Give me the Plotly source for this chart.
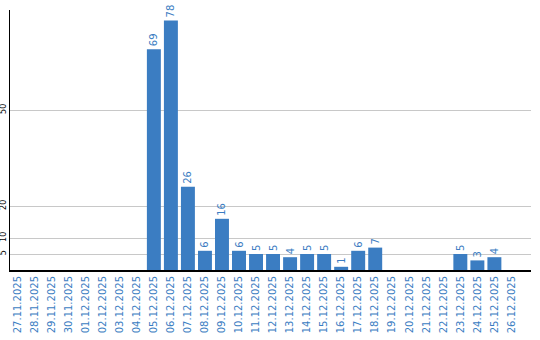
import plotly.graph_objects as go

dates = ["27.11.2025", "28.11.2025", "29.11.2025", "30.11.2025", "01.12.2025",
         "02.12.2025", "03.12.2025", "04.12.2025", "05.12.2025", "06.12.2025",
         "07.12.2025", "08.12.2025", "09.12.2025", "10.12.2025", "11.12.2025",
         "12.12.2025", "13.12.2025", "14.12.2025", "15.12.2025", "16.12.2025",
         "17.12.2025", "18.12.2025", "19.12.2025", "20.12.2025", "21.12.2025",
         "22.12.2025", "23.12.2025", "24.12.2025", "25.12.2025", "26.12.2025"]
values = [0, 0, 0, 0, 0, 0, 0, 0, 69, 78,
          26, 6, 16, 6, 5, 5, 4, 5, 5, 1,
          6, 7, 0, 0, 0, 0, 5, 3, 4, 0]
y_ticks = [5, 10, 20, 50]

BLUE = "#3b7dc2"
labels = [str(v) if v > 0 else "" for v in values]

fig = go.Figure(go.Bar(
    x=dates, y=values, text=labels,
    textposition="outside", textangle=-90,
    textfont=dict(family="DejaVu Sans", size=10, color=BLUE),
    constraintext="none", cliponaxis=False,
    marker=dict(color=BLUE, line=dict(width=0)),
    hoverinfo="skip",
))

fig.update_layout(
    width=540, height=340,
    margin=dict(l=10, r=9, t=10, b=70),
    paper_bgcolor="white", plot_bgcolor="white",
    bargap=0.18, showlegend=False,
    font=dict(family="DejaVu Sans"),
)
fig.update_xaxes(
    type="category", range=[-0.45, 30.15],
    tickangle=-90, tickfont=dict(family="DejaVu Sans", size=10, color=BLUE),
    showline=True, linecolor="black", linewidth=2,
    showgrid=False, ticks="", automargin=False,
)
fig.update_yaxes(
    range=[0, 81.25], tickvals=y_ticks, ticktext=[str(t) for t in y_ticks],
    tickangle=-90, tickfont=dict(family="DejaVu Sans", size=8, color="black"),
    showline=True, linecolor="black", linewidth=1,
    showgrid=True, gridcolor="#c8c8c8", gridwidth=1,
    zeroline=False, ticks="", automargin=False, ticklabelstandoff=0,
)

fig.write_html("out.html")
